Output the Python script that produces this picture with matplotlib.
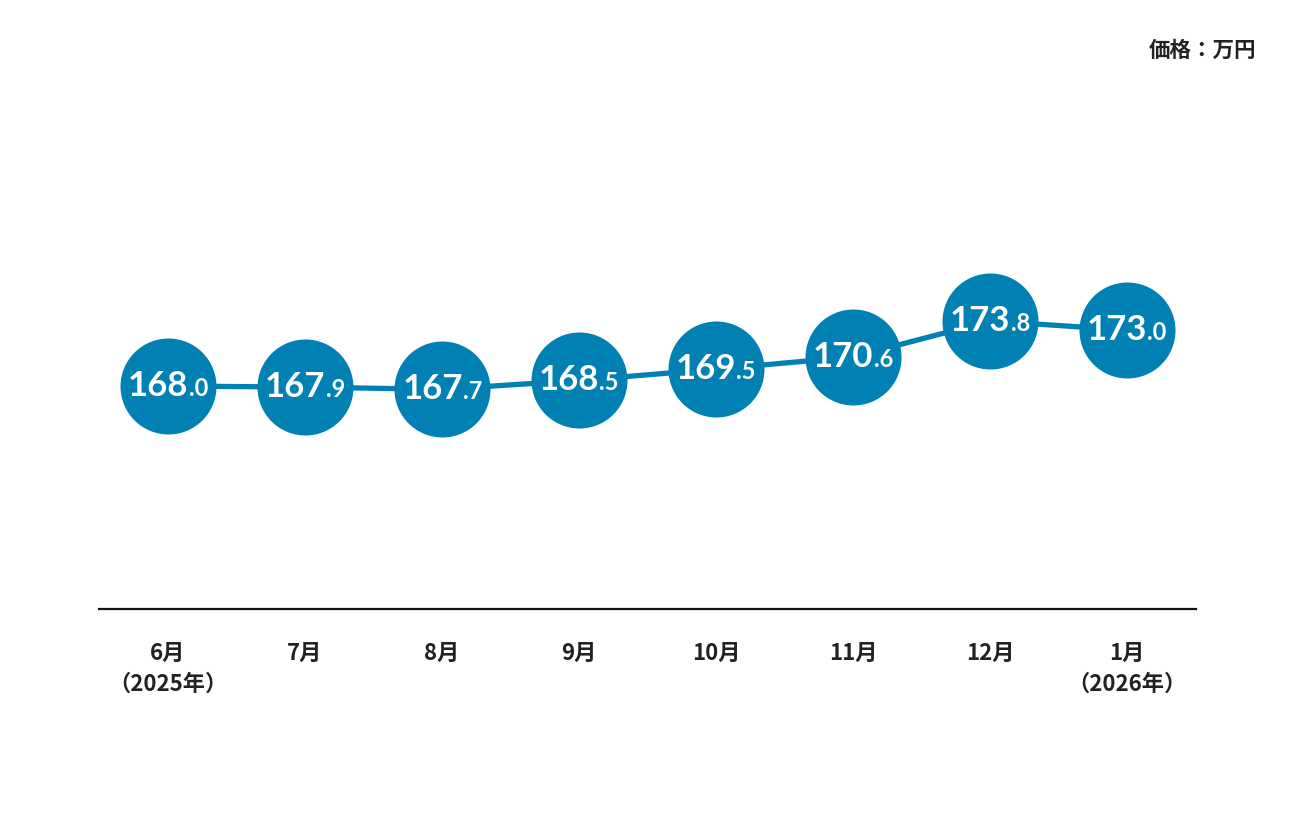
import matplotlib
matplotlib.use("Agg")
import matplotlib.pyplot as plt
from matplotlib.offsetbox import TextArea, HPacker, AnnotationBbox

plt.rcParams['font.family'] = ['Noto Sans CJK JP', 'DejaVu Sans']

months = ['6月\n（2025年）', '7月', '8月', '9月', '10月', '11月', '12月', '1月\n（2026年）']
prices = [168.0, 167.9, 167.7, 168.5, 169.5, 170.6, 173.8, 173.0]
unit_label = '価格：万円'

blue = '#0080b3'
W, H = 1296, 816

fig = plt.figure(figsize=(W / 100, H / 100), dpi=100)
# axes spans the baseline (x 99..1196 px) and from y=609 px up to y=100 px
ax = fig.add_axes([99 / W, 1 - 609 / H, (1196 - 99) / W, (609 - 100) / H])

px_per_unit = 11.2
y_bottom = 168.0 - (609 - 386) / px_per_unit
y_top = 168.0 + (386 - 100) / px_per_unit
ax.set_xlim(-0.504, 7.504)
ax.set_ylim(y_bottom, y_top)

x = list(range(len(prices)))
ax.plot(x, prices, color=blue, lw=3.8, zorder=1, solid_capstyle='butt')
ax.scatter(x, prices, s=(96 * 72 / 100) ** 2, color=blue, zorder=2, linewidths=0)

for xi, p in zip(x, prices):
    whole, dec = f'{p:.1f}'.split('.')
    t1 = TextArea(whole, textprops=dict(color='white', fontsize=25, fontweight='bold',
                                        family='Lato'))
    t2 = TextArea('.' + dec, textprops=dict(color='white', fontsize=17, fontweight='bold',
                                            family='Lato'))
    box = HPacker(children=[t1, t2], align='baseline', pad=0, sep=0)
    ab = AnnotationBbox(box, (xi, p), frameon=False, box_alignment=(0.5, 0.5),
                        zorder=3)
    ax.add_artist(ab)

for s in ['top', 'right', 'left']:
    ax.spines[s].set_visible(False)
ax.spines['bottom'].set_linewidth(1.6)
ax.spines['bottom'].set_color('#111111')
ax.set_yticks([])
ax.set_xticks(x)
ax.set_xticklabels(months, fontsize=16, fontweight='bold', color='#222222',
                   linespacing=1.4, va='top')
ax.tick_params(axis='x', length=0, pad=24)

fig.text(1256 / W, 1 - 50 / H, unit_label, ha='right', va='center',
         fontsize=15.5, fontweight='bold', color='#222222')

fig.savefig('out.png', dpi=100)
